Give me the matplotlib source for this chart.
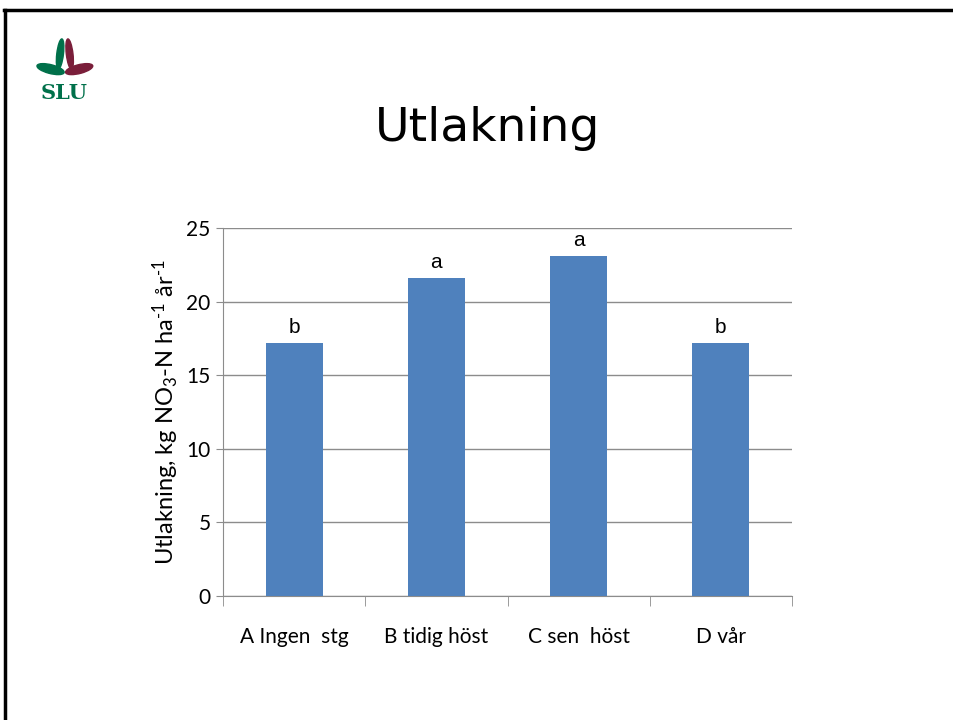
import numpy as np
import matplotlib.pyplot as plt
from matplotlib.lines import Line2D
from matplotlib.patches import Ellipse

plt.rcParams['mathtext.fontset'] = 'custom'
plt.rcParams['mathtext.rm'] = 'Lato'
plt.rcParams['mathtext.it'] = 'Lato'

categories = ['A Ingen  stg', 'B tidig höst', 'C sen  höst', 'D vår']
values = [17.2, 21.6, 23.1, 17.2]
letters = ['b', 'a', 'a', 'b']

fig = plt.figure(figsize=(9.54, 7.2), dpi=100)
ax = fig.add_axes([0.2338, 0.1722, 0.5964, 0.5111])

ind = np.arange(len(categories))
ax.bar(ind, values, 0.4, color='#4f81bd', zorder=3)
for i, (v, s) in enumerate(zip(values, letters)):
    ax.text(i, v + 0.4, s, ha='center', va='bottom', fontsize=15,
            family='Liberation Sans')

ax.set_xlim(-0.5, 3.5)
ax.set_ylim(0, 25)
ax.set_yticks(range(0, 26, 5))
ax.yaxis.grid(True, color='#8c8c8c', lw=1, zorder=0)
for s in ['top', 'right']:
    ax.spines[s].set_visible(False)
for s in ['left', 'bottom']:
    ax.spines[s].set_color('#8c8c8c')
ax.set_xticks(ind)
ax.set_xticklabels(categories, fontsize=15, family='Lato')
ax.tick_params(axis='x', length=0, pad=22)
ax.set_xticks(np.arange(-0.5, 4, 1), minor=True)
ax.tick_params(axis='x', which='minor', length=7, color='#8c8c8c')
ax.tick_params(axis='y', length=5, color='#8c8c8c', labelsize=15, pad=4)
for t in ax.get_yticklabels():
    t.set_family('Lato')
ax.set_ylabel(r'Utlakning, kg NO$_3$-N ha$^{\text{-1}}$ år$^{\text{-1}}$',
              fontsize=17, family='Lato', labelpad=4)

fig.text(0.511, 0.821, 'Utlakning', ha='center', va='center', fontsize=34,
         family='DejaVu Sans')

# slide frame
fig.add_artist(Line2D([0.004, 1], [0.986, 0.986], color='black', lw=2.5))
fig.add_artist(Line2D([0.005, 0.005], [0, 0.986], color='black', lw=2.5))

# SLU logo
fig.add_artist(Ellipse((0.053, 0.904), 0.03, 0.012, angle=-20, color='#00704a'))
fig.add_artist(Ellipse((0.083, 0.904), 0.03, 0.012, angle=20, color='#7a1e3a'))
fig.add_artist(Ellipse((0.063, 0.925), 0.007, 0.042, angle=-5, color='#00704a'))
fig.add_artist(Ellipse((0.073, 0.925), 0.007, 0.042, angle=5, color='#7a1e3a'))
fig.text(0.067, 0.871, 'SLU', ha='center', va='center', fontsize=15,
         color='#00704a', family='DejaVu Serif', fontweight='bold')

fig.savefig('out.png', dpi=100)
